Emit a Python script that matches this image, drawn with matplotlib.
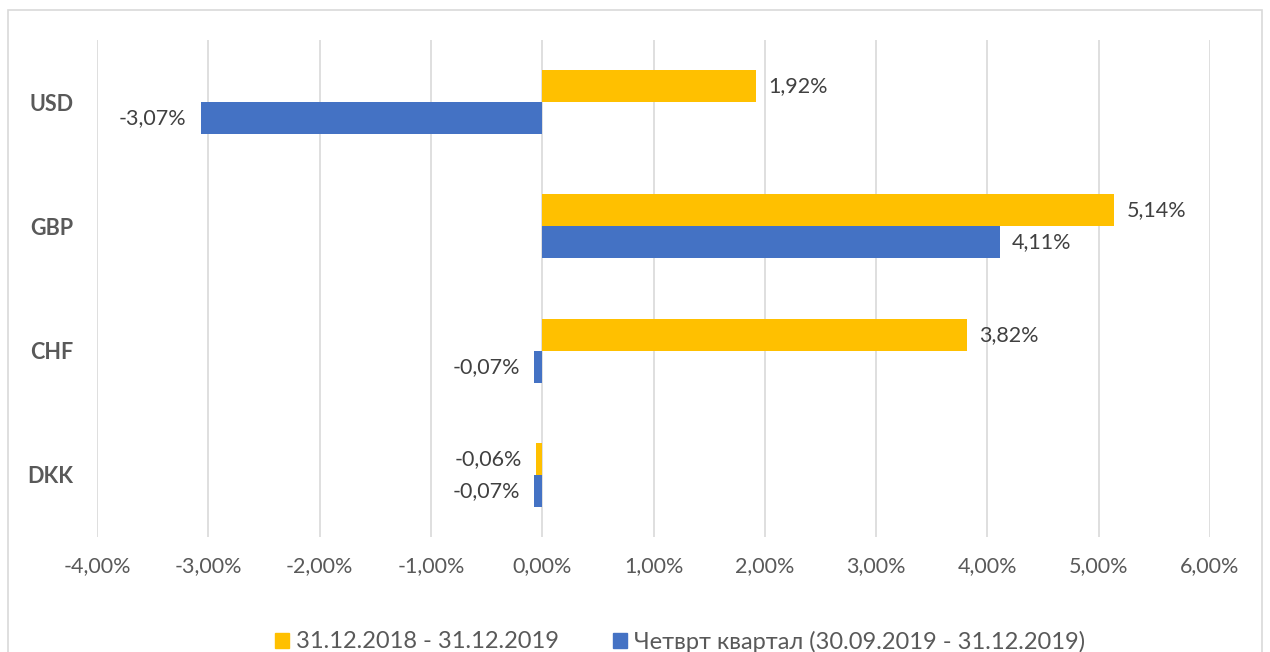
import matplotlib
matplotlib.use("Agg")
import matplotlib.pyplot as plt
from matplotlib.patches import Rectangle, Patch

plt.rcParams['font.family'] = ['Lato', 'DejaVu Sans']

categories = ["USD", "GBP", "CHF", "DKK"]
series_names = ["31.12.2018 - 31.12.2019", "Четврт квартал (30.09.2019 - 31.12.2019)"]
annual = [1.92, 5.14, 3.82, -0.06]
quarter = [-3.07, 4.11, -0.07, -0.07]
x_ticks = [-4, -3, -2, -1, 0, 1, 2, 3, 4, 5, 6]

yellow = "#FFC000"
blue = "#4472C4"
text_color = "#595959"
grid_color = "#D9D9D9"


def pct(v):
    return f"{v:.2f}%".replace(".", ",")


fig = plt.figure(figsize=(12.7, 6.52), dpi=100)
ax = fig.add_axes([97 / 1270, 1 - 537 / 652, (1210 - 97) / 1270, (537 - 40) / 652])

# outer chart frame
fig.patches.append(Rectangle((8 / 1270, -0.1), (1262 - 8) / 1270, 1 - 10 / 652 + 0.1,
                             transform=fig.transFigure, fill=False,
                             edgecolor="#D9D9D9", linewidth=1.2))

h = 0.258
ypos = list(range(len(categories)))
ax.barh([y - h / 2 for y in ypos], annual, height=h, color=yellow, zorder=3)
ax.barh([y + h / 2 for y in ypos], quarter, height=h, color=blue, zorder=3)

for vals, off in ((annual, -h / 2), (quarter, h / 2)):
    for y, v in zip(ypos, vals):
        dx = 12 if v >= 0 else -14
        ax.annotate(pct(v), (v, y + off), xytext=(dx, 0), textcoords="offset pixels",
                    ha="left" if v >= 0 else "right", va="center",
                    fontsize=15.5, color="#404040")

ax.set_xlim(-4, 6)
ax.set_ylim(len(categories) - 0.5, -0.5)
ax.set_xticks(x_ticks)
ax.set_xticklabels([pct(t) for t in x_ticks], fontsize=15.5, color=text_color)
ax.set_yticks(ypos)
ax.set_yticklabels(categories, fontsize=15.5, fontweight="bold", color=text_color)
ax.tick_params(axis="both", length=0)
ax.tick_params(axis="x", pad=14)
ax.tick_params(axis="y", pad=17)
ax.xaxis.grid(True, color=grid_color, linewidth=1.2, zorder=0)
ax.set_axisbelow(True)
for s in ax.spines.values():
    s.set_visible(False)

# legend entries placed individually along the bottom edge
legend_x = [275 / 1270, 613 / 1270]
for color, name, lx in zip((yellow, blue), series_names, legend_x):
    fig.legend([Patch(color=color)], [name], loc="center left",
               bbox_to_anchor=(lx, 1 - 642 / 652), frameon=False, fontsize=17,
               handlelength=0.6, handleheight=0.6, handletextpad=0.3,
               borderpad=0, borderaxespad=0, labelcolor=text_color)

fig.savefig("out.png", dpi=100)
